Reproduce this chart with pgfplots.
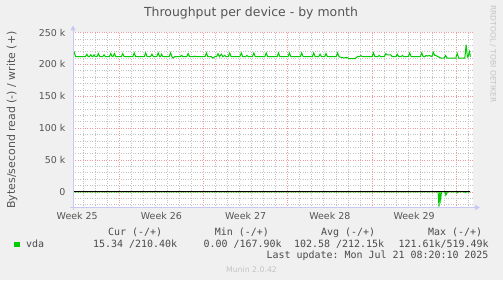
\documentclass[border=0pt]{standalone}
\usepackage{pgfplots}
\pgfplotsset{compat=1.18}
\usepackage{fontspec}
\setmainfont{DejaVu Sans}
\setmonofont{DejaVu Sans Mono}
\usetikzlibrary{arrows.meta}
\definecolor{bg}{HTML}{F0F0F0}
\definecolor{txt}{HTML}{555555}
\definecolor{leg}{HTML}{4A4A4A}
\definecolor{axl}{HTML}{C8C8F4}
\definecolor{maj}{HTML}{F09A9A}
\definecolor{mnr}{HTML}{C4C4C4}
\definecolor{grn}{HTML}{00CC00}
\definecolor{faint}{HTML}{C4C4C4}
\begin{document}
\begin{tikzpicture}[x=1bp,y=1bp]
\fill[bg] (0,0) rectangle (503,280);
\begin{axis}[
  name=ax,
  at={(73bp,72.5bp)}, anchor=south west,
  scale only axis, width=400bp, height=175bp,
  xmin=-3.85, xmax=29.40, ymin=-24.4, ymax=250,
  axis background/.style={fill=white},
  axis line style={draw=none},
  xtick={0,7,14,21,28}, xticklabels={},
  minor xtick={-3,-2,...,29},
  extra x ticks={-3.5,3.5,10.5,17.5,24.5},
  extra x tick labels={Week 25,Week 26,Week 27,Week 28,Week 29},
  extra x tick style={grid=none, major tick length=0pt},
  ytick={0,50,100,150,200,250},
  yticklabels={0,50 k,100 k,150 k,200 k,250 k},
  minor ytick={-20,-10,...,240},
  grid=both,
  major grid style={maj, dotted, line width=0.7bp},
  minor grid style={mnr, dotted, line width=0.7bp},
  major tick length=0pt, minor tick length=0pt,
  tick label style={font=\fontsize{9.5}{11}\selectfont, text=txt},
  yticklabel style={xshift=-4bp},
  xticklabel style={yshift=-1.5bp},
  /pgf/number format/assume math mode=true,
]
% read (negative), k bytes/s
\addplot[grn, line width=1bp] coordinates {
(-3.85,0) (26.50,0) (26.57,-23) (26.64,0) (26.71,-12) (26.78,0)
(27.10,0) (27.14,-5) (27.20,-3) (27.28,0) (28.05,0) (28.09,-1) (28.15,0)
(28.70,0) (28.78,-1) (28.85,0) (29.18,0)};
% zero line
\addplot[black, line width=1bp] coordinates {(-3.85,0) (29.18,0)};
% write (positive), k bytes/s
\addplot[grn, line width=1bp] coordinates {
(-3.84,216) (-3.75,219) (-3.63,212)
(-2.82,212) (-2.70,216) (-2.58,212)
(-2.49,212) (-2.37,215) (-2.25,212)
(-2.20,212) (-2.10,215) (-2.00,212)
(-1.86,212) (-1.74,217) (-1.62,212)
(-1.39,212) (-1.27,215) (-1.15,212)
(-0.83,212) (-0.71,217) (-0.59,212)
(-0.53,212) (-0.41,217) (-0.29,212)
(0.16,212) (0.28,217) (0.40,212)
(1.12,212) (1.24,218) (1.36,212)
(2.07,212) (2.19,218) (2.31,212)
(2.59,212) (2.71,216) (2.83,212)
(3.11,212) (3.23,218) (3.35,212)
(3.43,212) (3.51,216) (3.63,212)
(4.14,212) (4.26,218) (4.38,212) (4.45,210) (4.60,212)
(5.05,212) (5.17,214) (5.29,212)
(5.60,212) (5.72,217) (5.84,212)
(6.15,212) (6.27,213) (6.39,212)
(7.12,212) (7.24,218) (7.36,212)
(7.65,212) (7.79,210) (7.95,212)
(8.08,212) (8.20,217) (8.32,212) (8.48,216) (8.60,212) (8.76,214) (8.88,212)
(9.05,212) (9.17,218) (9.29,212)
(10.02,212) (10.14,218) (10.26,212)
(10.48,212) (10.60,214) (10.72,212)
(11.06,212) (11.18,218) (11.30,212)
(12.09,212) (12.21,218) (12.33,212)
(13.11,212) (13.23,218) (13.35,212)
(14.02,212) (14.14,218) (14.26,212)
(15.04,212) (15.16,218) (15.28,212)
(16.04,212) (16.16,218) (16.28,212)
(16.57,212) (16.69,216) (16.81,212)
(17.06,212) (17.18,217) (17.30,212)
(18.02,212) (18.14,218) (18.26,212)
(18.45,211) (18.70,210) (18.90,211) (19.12,209) (19.61,209) (19.78,212)
(19.96,212) (20.08,214) (20.20,212)
(21.01,212) (21.13,218) (21.25,212)
(21.48,212) (21.60,214) (21.72,212)
(22.03,212) (22.15,217) (22.26,215) (22.57,215) (22.69,212)
(22.99,212) (23.11,216) (23.23,212)
(23.41,212) (23.53,214) (23.65,212)
(24.02,212) (24.14,218) (24.26,212)
(25.02,212) (25.14,218) (25.26,212)
(25.40,212) (25.49,214) (25.62,213) (25.75,214) (25.88,213) (25.98,212)
(26.10,219) (26.22,214) (26.30,214) (26.50,212) (26.71,210)
(27.00,210) (27.12,214) (27.24,210)
(27.97,210) (28.09,217) (28.21,210)
(28.72,210) (28.83,231) (28.93,212) (28.97,211) (29.11,220) (29.18,212)};
\end{axis}
% axis lines with arrows
\draw[axl, line width=1bp, -{Triangle[width=5bp,length=5bp]}]
  ([yshift=-2.5bp]ax.south west) -- ([yshift=7bp]ax.north west);
\draw[axl, line width=1bp, -{Triangle[width=5bp,length=5bp]}]
  ([xshift=-3bp]ax.south west) -- ([xshift=7bp]ax.south east);
% titles
\node[txt, font=\fontsize{12.5}{14}\selectfont] at (251,267) {Throughput per device - by month};
\node[txt, rotate=90, font=\fontsize{11}{13}\selectfont] at (12,160) {Bytes/second read (-) / write (+)};
\node[faint, rotate=-90, font=\fontsize{7.6}{9}\selectfont] at (493,226) {RRDTOOL / TOBI OETIKER};
\node[faint, font=\fontsize{7.8}{9}\selectfont] at (251.5,10.7) {Munin 2.0.42};
% legend
\begin{scope}[every node/.style={leg, inner sep=0pt, font=\ttfamily\fontsize{10}{12}\selectfont}]
\node[anchor=base east] at (162.3,44.5) {Cur (-/+)};
\node[anchor=base east] at (269.0,44.5) {Min (-/+)};
\node[anchor=base east] at (375.3,44.5) {Avg (-/+)};
\node[anchor=base east] at (482.3,44.5) {Max (-/+)};
\fill[grn] (14,32.7) rectangle (20,38.5);
\node[anchor=base west] at (26,32.7) {vda};
\node[anchor=base east] at (177.3,32.7) {15.34 /210.40k};
\node[anchor=base east] at (281.7,32.7) {0.00 /167.90k};
\node[anchor=base east] at (384.3,32.7) {102.58 /212.15k};
\node[anchor=base east] at (488.7,32.7) {121.61k/519.49k};
\node[anchor=base east] at (488.7,21.2) {Last update: Mon Jul 21 08:20:10 2025};
\end{scope}
\useasboundingbox (0,0) rectangle (503,280);
\end{tikzpicture}
\end{document}
